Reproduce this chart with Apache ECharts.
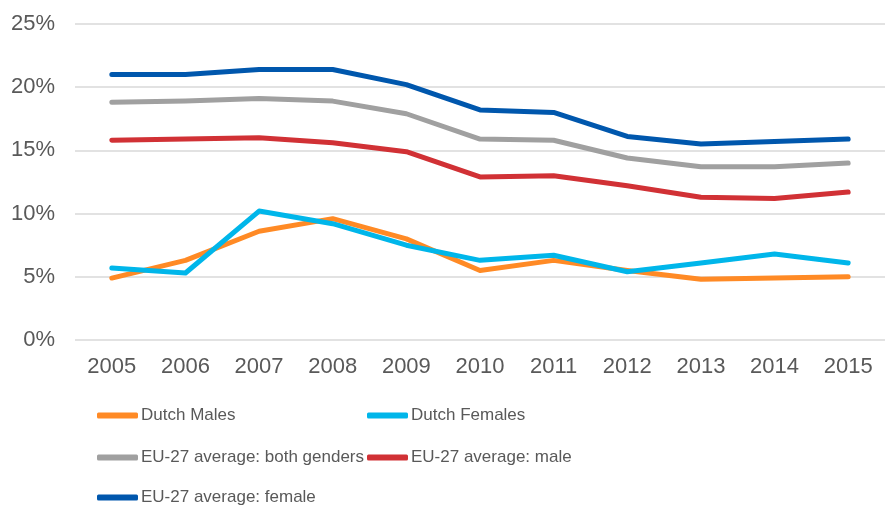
<!DOCTYPE html>
<html>
<head>
<meta charset="utf-8">
<script src="https://cdn.jsdelivr.net/npm/echarts@6/dist/echarts.min.js"></script>
<style>html,body{margin:0;padding:0;background:#fff;}#c{width:885px;height:508px;}</style>
</head>
<body>
<div id="c"></div>
<script>
const years = ['2005','2006','2007','2008','2009','2010','2011','2012','2013','2014','2015'];
const dutchMales = [4.9, 6.3, 8.6, 9.6, 8.0, 5.5, 6.3, 5.5, 4.8, 4.9, 5.0];
const dutchFemales = [5.7, 5.3, 10.2, 9.2, 7.5, 6.3, 6.7, 5.4, 6.1, 6.8, 6.1];
const euBoth = [18.8, 18.9, 19.1, 18.9, 17.9, 15.9, 15.8, 14.4, 13.7, 13.7, 14.0];
const euMale = [15.8, 15.9, 16.0, 15.6, 14.9, 12.9, 13.0, 12.2, 11.3, 11.2, 11.7];
const euFemale = [21.0, 21.0, 21.4, 21.4, 20.2, 18.2, 18.0, 16.1, 15.5, 15.7, 15.9];
const yTicks = [0, 5, 10, 15, 20, 25];

const names = ['Dutch Males','Dutch Females','EU-27 average: both genders','EU-27 average: male','EU-27 average: female'];
const colors = ['#ff8a25','#00b6ea','#a0a0a0','#d13135','#0057ad'];
const datas = [dutchMales, dutchFemales, euBoth, euMale, euFemale];

const legendPos = [
  {left: 97, top: 407},
  {left: 367, top: 407},
  {left: 97, top: 449},
  {left: 367, top: 449},
  {left: 97, top: 489}
];
const sans = "'Liberation Sans', Arial, sans-serif";

const chart = echarts.init(document.getElementById('c'), null, {renderer: 'canvas'});
chart.setOption({
  animation: false,
  backgroundColor: '#fff',
  grid: {left: 75, right: -10, top: 24, bottom: 168, containLabel: false},
  xAxis: {
    type: 'category',
    data: years,
    boundaryGap: true,
    axisLine: {show: false},
    axisTick: {show: false},
    axisLabel: {color: '#595959', fontSize: 22, fontFamily: sans, margin: 16}
  },
  yAxis: {
    type: 'value',
    min: yTicks[0],
    max: yTicks[yTicks.length - 1],
    interval: 5,
    axisLine: {show: false},
    axisTick: {show: false},
    splitLine: {lineStyle: {color: '#d9d9d9', width: 1.5}},
    axisLabel: {color: '#595959', fontSize: 22, fontFamily: sans, margin: 20, formatter: '{value}%'}
  },
  legend: names.map((n, i) => ({
    data: [n],
    left: legendPos[i].left,
    top: legendPos[i].top,
    padding: 0,
    icon: 'roundRect',
    itemWidth: 41,
    itemHeight: 6,
    selectedMode: false,
    textStyle: {color: '#595959', fontSize: 17, fontFamily: sans, padding: [0, 0, 0, -2]}
  })),
  series: names.map((n, i) => ({
    name: n,
    type: 'line',
    data: datas[i],
    symbol: 'none',
    color: colors[i],
    lineStyle: {color: colors[i], width: 5, cap: 'round', join: 'round'}
  }))
});
</script>
</body>
</html>
